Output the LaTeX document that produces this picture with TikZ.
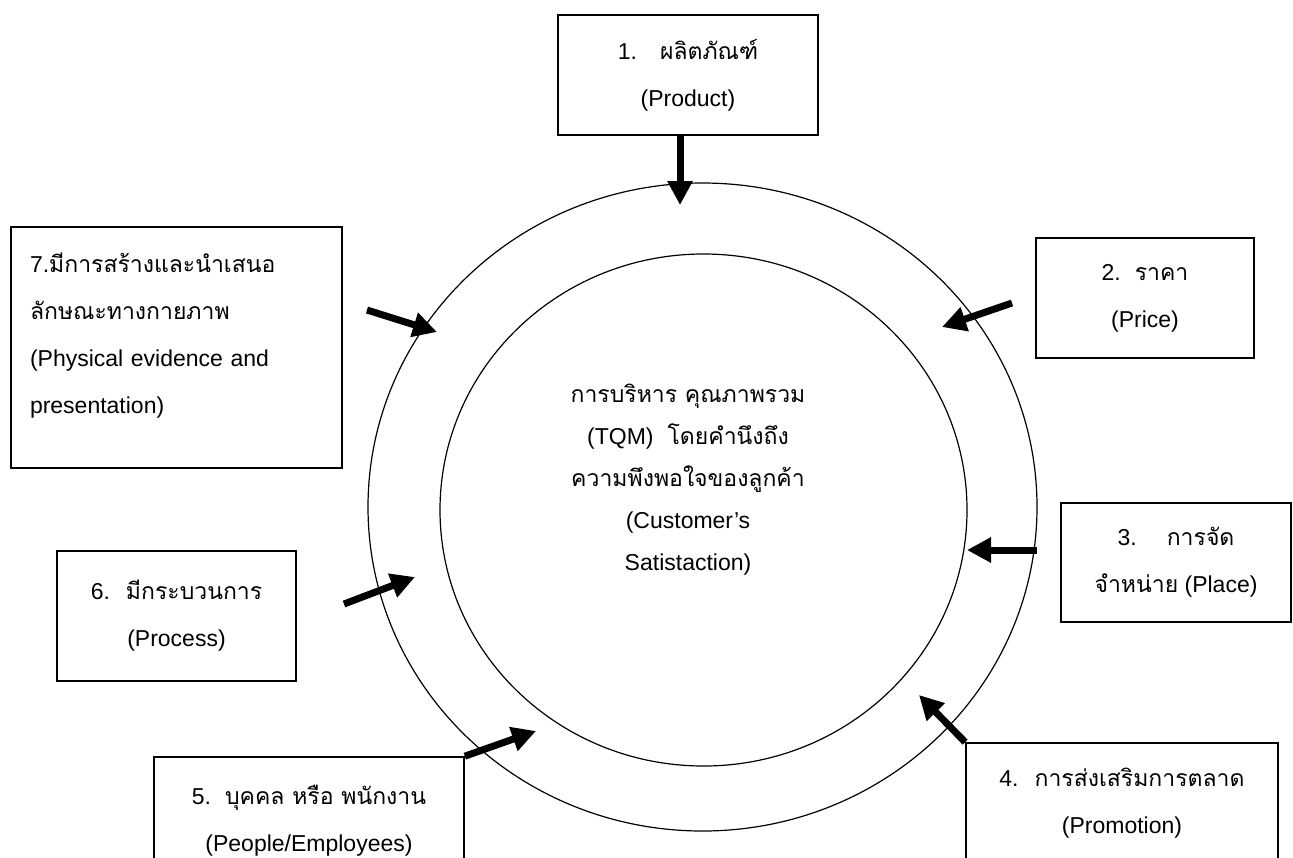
\documentclass[tikz,border=0pt]{standalone}
\usepackage{fontspec}
\setmainfont{Liberation Sans}
\newfontfamily\thaifont[Script=Thai]{Loma}
\newcommand{\thtxt}[1]{{\thaifont #1}}
\usetikzlibrary{arrows.meta,shapes.geometric}

\tikzset{
  box/.style={draw, line width=0.8pt, align=center, inner sep=0pt,
    font=\fontsize{11.5}{23.5}\selectfont},
  ring/.style={draw, ellipse, line width=0.6pt, inner sep=0pt},
  push/.style={-{Triangle[length=12pt,width=12pt]}, line width=3.5pt},
}

\begin{document}
\begin{tikzpicture}[x=0.5pt, y=-0.5pt]
  \useasboundingbox (0,0) rectangle (1293,857);
  \clip (0,0) rectangle (1293,857);

  % Rings
  \node[ring, minimum width=334.5pt, minimum height=324pt] (outer) at (702.5,507) {};
  \node[ring, minimum width=263.5pt, minimum height=256pt] (inner) at (703.5,510) {};
  \node[align=center, font=\fontsize{11.5}{21}\selectfont] (tqm) at (688,480)
    {\thtxt{การบริหาร คุณภาพรวม}\\(TQM)\hspace{7pt}\thtxt{โดยคำนึงถึง}\\
     \thtxt{ความพึงพอใจของลูกค้า}\\(Customer's\\Satistaction)};

  % Boxes
  \node[box, minimum width=130pt, minimum height=60pt] (prod) at (688,75)
    {1.\quad\thtxt{ผลิตภัณฑ์}\\(Product)};
  \node[box, minimum width=109pt, minimum height=60pt] (price) at (1145,298)
    {2.\hspace{7pt}\thtxt{ราคา}\\(Price)};
  \node[box, minimum width=115pt, minimum height=59.5pt] (place) at (1176,562.5)
    {3.\hspace{15pt}\thtxt{การจัด}\\\thtxt{จำหน่าย} (Place)};
  \node[box, minimum width=156pt, minimum height=60.5pt] (promo) at (1122,803.5)
    {4.\hspace{8pt}\thtxt{การส่งเสริมการตลาด}\\(Promotion)};
  \node[box, minimum width=155pt, minimum height=64pt] (people) at (309,821)
    {5.\hspace{7pt}\thtxt{บุคคล หรือ พนักงาน}\\(People/Employees)};
  \node[box, minimum width=119.5pt, minimum height=65pt] (proc) at (176.5,616)
    {6.\hspace{8pt}\thtxt{มีกระบวนการ}\\(Process)};
  \node[box, align=left, inner xsep=9.5pt, text width=146.5pt, minimum height=120.5pt]
    (phys) at (176.5,347.5)
    {7.\thtxt{มีการสร้างและนำเสนอ}\\\thtxt{ลักษณะทางกายภาพ}\\(Physical evidence and\\presentation)\\[-9pt]\mbox{}};

  % Arrow ends
  \coordinate (p1) at (680,205);
  \coordinate (s2) at (1012,303);
  \coordinate (p2) at (942,327);
  \coordinate (s3) at (1037,550);
  \coordinate (p3) at (967,550);
  \coordinate (p4) at (919,695);
  \coordinate (p5) at (536,731);
  \coordinate (s6) at (344,604);
  \coordinate (p6) at (415,577);
  \coordinate (s7) at (367,310);
  \coordinate (p7) at (437,332);

  % Arrows
  \draw[push] (prod.south -| p1) -- (p1);
  \draw[push] (s2) -- (p2);
  \draw[push] (s3) -- (p3);
  \draw[push] (promo.north west) -- (p4);
  \draw[push] (people.north east) -- (p5);
  \draw[push] (s6) -- (p6);
  \draw[push] (s7) -- (p7);
\end{tikzpicture}
\end{document}
